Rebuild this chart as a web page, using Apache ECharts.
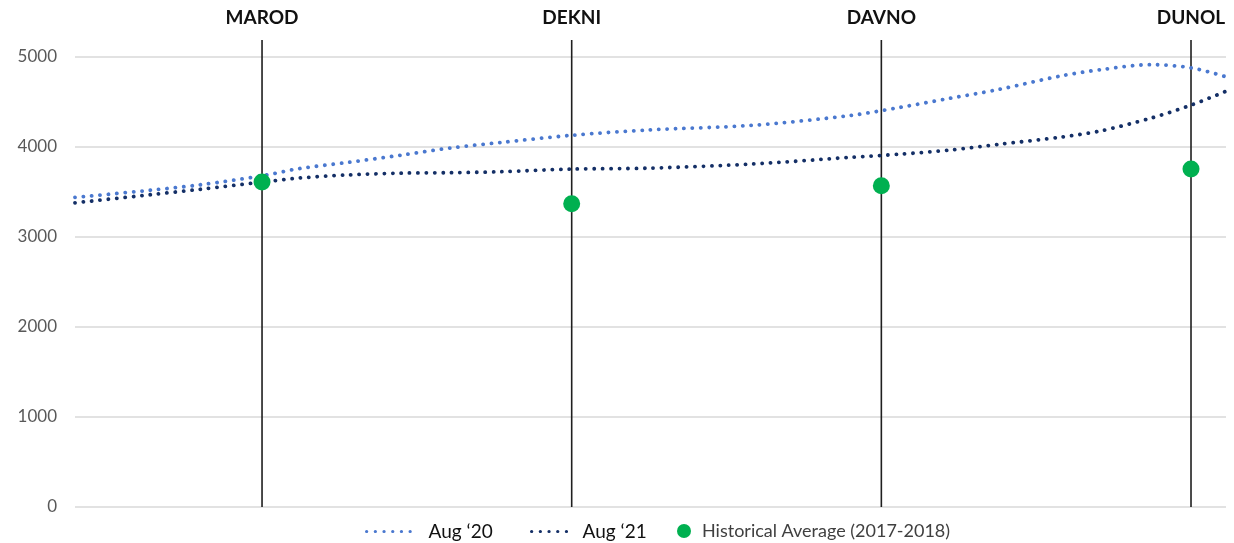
<!DOCTYPE html>
<html>
<head>
<meta charset="utf-8">
<script src="https://cdn.jsdelivr.net/npm/echarts@6/dist/echarts.min.js"></script>
<style>
  html, body { margin: 0; padding: 0; background: #fff; }
  #chart { width: 1234px; height: 543px; }
</style>
</head>
<body>
<div id="chart"></div>
<script>
// Stations along the route, placed at positions 1..4
const stations = ['MAROD', 'DEKNI', 'DAVNO', 'DUNOL'];
const stationPos = [1, 2, 3, 4];

// Position along the route (station units) for the sampled readings
const routePos = [0.396, 0.64, 0.80, 1.00, 1.12, 1.28, 1.45, 1.61, 1.77, 2.00, 2.25,
                  2.58, 2.90, 3.06, 3.22, 3.38, 3.58, 3.71, 3.87, 4.00, 4.113];

const aug20 = [3440, 3520, 3580, 3680, 3760, 3830, 3910, 3990, 4050, 4130, 4190,
               4240, 4350, 4440, 4540, 4640, 4790, 4860, 4915, 4880, 4780];

const aug21 = [3380, 3470, 3530, 3610, 3655, 3690, 3710, 3715, 3725, 3755, 3765,
               3810, 3885, 3920, 3965, 4030, 4110, 4180, 4320, 4465, 4620];

const historicalAvg = [3610, 3370, 3570, 3755];

// Height the station marker lines reach above the top gridline
const markerTop = 5190;

const yTicks = [0, 1000, 2000, 3000, 4000, 5000];

const FONT = 'Lato, "Open Sans", sans-serif';

const pairs = (xs, ys) => xs.map((x, i) => [x, ys[i]]);

const dotted = (color) => ({
  color: color,
  width: 3.8,
  type: [0.1, 8.3],
  cap: 'round'
});

const legendDots = { width: 3.2, type: [0.1, 8.6], cap: 'round' };

const series = [
  {
    name: 'Aug ‘20',
    type: 'line',
    data: pairs(routePos, aug20),
    smooth: 0.3,
    symbol: 'none',
    lineStyle: dotted('#4a78cf'),
    itemStyle: { color: '#4a78cf' },
    z: 3
  },
  {
    name: 'Aug ‘21',
    type: 'line',
    data: pairs(routePos, aug21),
    smooth: 0.3,
    symbol: 'none',
    lineStyle: dotted('#142f66'),
    itemStyle: { color: '#142f66' },
    z: 4
  }
];

// Vertical station marker lines
stationPos.forEach((p, i) => {
  series.push({
    name: 'marker-' + stations[i],
    type: 'line',
    data: [[p, 0], [p, markerTop]],
    symbol: 'none',
    clip: false,
    silent: true,
    lineStyle: { color: '#1f1f1f', width: 1.6 },
    z: 2
  });
});

series.push({
  name: 'Historical Average (2017-2018)',
  type: 'scatter',
  data: pairs(stationPos, historicalAvg),
  symbolSize: 17,
  itemStyle: { color: '#00b050', opacity: 1 },
  z: 6
});

const chart = echarts.init(document.getElementById('chart'), null, { renderer: 'canvas' });

chart.setOption({
  animation: false,
  backgroundColor: '#ffffff',
  textStyle: { fontFamily: FONT },
  grid: { left: 75, right: 8, top: 57, bottom: 36, containLabel: false },
  xAxis: {
    type: 'value',
    position: 'top',
    min: routePos[0],
    max: routePos[routePos.length - 1],
    axisLine: { show: false },
    axisTick: { show: false },
    splitLine: { show: false },
    axisLabel: {
      customValues: stationPos,
      formatter: (v) => {
        const i = stationPos.indexOf(Math.round(v));
        return i >= 0 ? stations[i] : '';
      },
      margin: 30,
      fontFamily: FONT,
      fontWeight: 'bold',
      fontSize: 19,
      color: '#111111'
    }
  },
  yAxis: {
    type: 'value',
    min: yTicks[0],
    max: yTicks[yTicks.length - 1],
    interval: 1000,
    axisLine: { show: false },
    axisTick: { show: false },
    axisLabel: {
      margin: 18,
      formatter: (v) => String(v),
      fontFamily: FONT,
      fontSize: 17,
      color: '#595959'
    },
    splitLine: { lineStyle: { color: '#d9d9d9', width: 1.5 } }
  },
  legend: [
    {
      left: 360, top: 517,
      itemWidth: 45, itemHeight: 14,
      itemStyle: { opacity: 0 },
      lineStyle: legendDots,
      data: [{ name: 'Aug ‘20' }],
      textStyle: { fontFamily: FONT, fontSize: 19, color: '#111111', padding: [0, 0, 0, 12] }
    },
    {
      left: 525, top: 517,
      itemWidth: 37, itemHeight: 14,
      itemStyle: { opacity: 0 },
      lineStyle: legendDots,
      data: [{ name: 'Aug ‘21' }],
      textStyle: { fontFamily: FONT, fontSize: 19, color: '#111111', padding: [0, 0, 0, 9] }
    },
    {
      left: 672, top: 517,
      itemWidth: 14, itemHeight: 14,
      data: [{ name: 'Historical Average (2017-2018)', icon: 'circle' }],
      textStyle: { fontFamily: FONT, fontSize: 18, color: '#404040', padding: [0, 0, 0, 6] }
    }
  ],
  series: series
});
</script>
</body>
</html>
